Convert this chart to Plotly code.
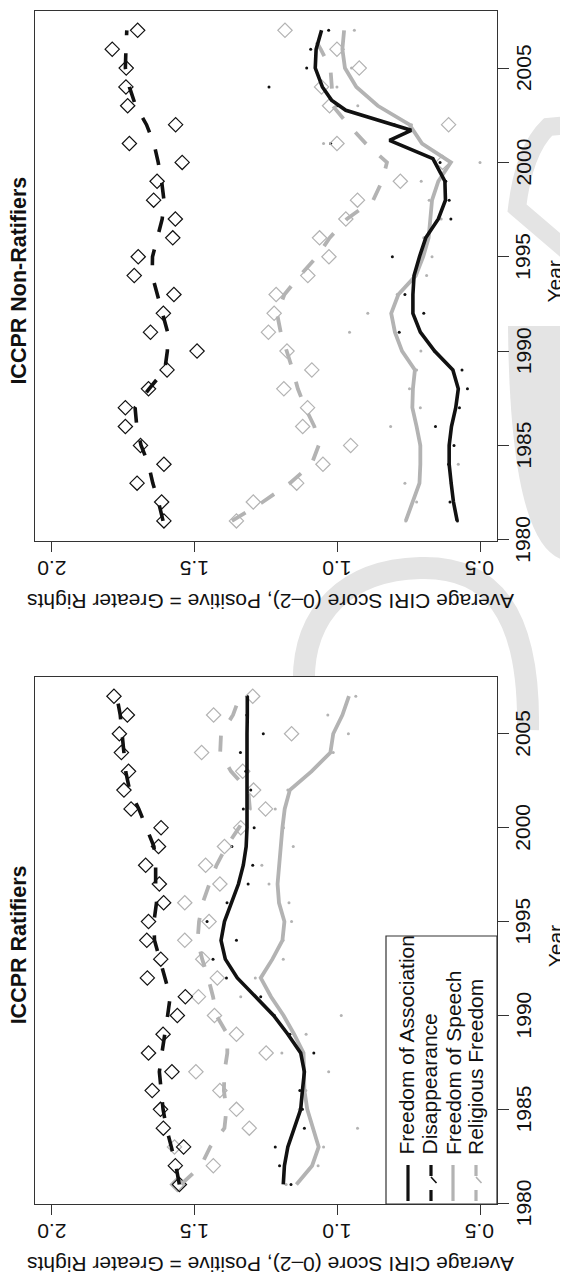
import plotly.graph_objects as go

# ---------------- data ----------------
years = list(range(1981, 2008))
year_ticks = [1980, 1985, 1990, 1995, 2000, 2005]
score_ticks = [0.5, 1.0, 1.5, 2.0]
score_ticklabels = ["0.5", "1.0", "1.5", "2.0"]

panel_titles = ["ICCPR Non-Ratifiers", "ICCPR Ratifiers"]
series_names = ["Freedom of Association", "Disappearance",
                "Freedom of Speech", "Religious Freedom"]
x_title = "Year"
y_title = "Average CIRI Score (0\u20132), Positive = Greater Rights"

# ICCPR Non-Ratifiers
nr_assoc_pts = [0.579, 0.605, 0.600, 0.610, 0.591, 0.656, 0.572, 0.544, 0.563,
                0.660, 0.783, 0.697, 0.763, 0.730, 0.807, 0.690, 0.602, 0.608,
                0.620, 0.640, 1.023, 0.800, 1.001, 1.239, 1.107, 1.093, 1.030]
nr_assoc_fit_years = list(range(1981, 2000)) + [2000.2, 2001.17, 2001.7, 2002.76,
                                                2003.3, 2004, 2005, 2006, 2007]
nr_assoc_fit = [0.580, 0.593, 0.601, 0.608, 0.608, 0.600, 0.585, 0.576, 0.595,
                0.659, 0.709, 0.735, 0.735, 0.731, 0.712, 0.690, 0.646, 0.621,
                0.623, 0.665, 0.817, 0.741, 0.970, 1.020, 1.052, 1.077, 1.074,
                1.055]
nr_disap_pts = [1.607, 1.615, 1.701, 1.607, 1.689, 1.742, 1.742, 1.661, 1.596,
                1.491, 1.654, 1.609, 1.572, 1.711, 1.697, 1.576, 1.567, 1.643,
                1.631, 1.543, 1.728, 1.566, 1.734, 1.740, 1.739, 1.788, 1.699]
nr_disap_fit = [1.610, 1.626, 1.646, 1.661, 1.687, 1.702, 1.708, 1.659, 1.604,
                1.595, 1.594, 1.613, 1.631, 1.648, 1.647, 1.629, 1.613, 1.607,
                1.615, 1.627, 1.642, 1.668, 1.706, 1.728, 1.742, 1.740, 1.737]
nr_speech_pts = [0.760, 0.722, 0.763, 0.576, 0.709, 0.813, 0.709, 0.747, 0.722,
                 0.707, 0.957, 0.893, 0.790, 0.687, 0.668, 0.697, 0.636, 0.678,
                 0.706, 0.500, 1.048, 0.740, 0.928, 1.001, 0.950, 0.980, 0.940]
nr_speech_fit = [0.760, 0.735, 0.712, 0.709, 0.709, 0.722, 0.737, 0.735, 0.728,
                 0.773, 0.798, 0.811, 0.786, 0.725, 0.699, 0.680, 0.675, 0.668,
                 0.646, 0.602, 0.703, 0.747, 0.858, 0.933, 0.973, 0.982, 0.976]
nr_relig_pts = [1.353, 1.294, 1.142, 1.050, 0.953, 1.121, 1.104, 1.187, 1.089,
                1.176, 1.241, 1.221, 1.214, 1.103, 1.029, 1.062, 0.970, 0.929,
                0.779, 0.631, 1.001, 0.610, 1.027, 1.055, 0.923, 1.001, 1.183]
nr_relig_fit = [1.369, 1.261, 1.166, 1.090, 1.065, 1.080, 1.112, 1.138, 1.156,
                1.176, 1.198, 1.211, 1.185, 1.131, 1.071, 1.027, 0.966, 0.874,
                0.843, 0.826, 0.900, 0.961, 1.016, 1.019, 1.024, 1.058, 1.096]

# ICCPR Ratifiers
r_assoc_pts = [1.162, 1.202, 1.217, 1.115, 1.122, 1.131, 1.115, 1.082, 1.166,
               1.220, 1.268, 1.388, 1.435, 1.353, 1.456, 1.386, 1.312, 1.296,
               1.369, 1.291, 1.329, 1.303, 1.320, 1.339, 1.259, 1.317, 1.315]
r_assoc_fit = [1.189, 1.185, 1.173, 1.151, 1.128, 1.122, 1.115, 1.128, 1.173,
               1.223, 1.287, 1.350, 1.392, 1.407, 1.395, 1.369, 1.346, 1.329,
               1.319, 1.316, 1.316, 1.317, 1.319, 1.317, 1.316, 1.315, 1.315]
r_disap_pts = [1.553, 1.567, 1.538, 1.609, 1.619, 1.648, 1.579, 1.661, 1.610,
               1.560, 1.532, 1.665, 1.618, 1.667, 1.661, 1.608, 1.623, 1.671,
               1.626, 1.617, 1.722, 1.747, 1.731, 1.756, 1.763, 1.735, 1.782]
r_disap_fit = [1.553, 1.565, 1.581, 1.598, 1.610, 1.618, 1.623, 1.614, 1.603,
               1.594, 1.585, 1.604, 1.623, 1.640, 1.642, 1.633, 1.636, 1.636,
               1.642, 1.668, 1.695, 1.727, 1.741, 1.747, 1.755, 1.760, 1.772]
r_speech_pts = [1.179, 1.067, 1.048, 0.929, 1.133, 1.110, 1.030, 1.194, 1.109,
                0.986, 1.338, 1.287, 1.189, 1.190, 1.160, 1.169, 1.239, 1.264,
                1.154, 1.188, 1.217, 1.173, 1.090, 1.014, 0.961, 1.033, 0.935]
r_speech_fit = [1.143, 1.088, 1.065, 1.084, 1.105, 1.115, 1.115, 1.118, 1.151,
                1.188, 1.232, 1.268, 1.227, 1.192, 1.185, 1.204, 1.209, 1.204,
                1.198, 1.192, 1.184, 1.166, 1.090, 1.024, 1.014, 0.982, 0.959]
r_relig_pts = [1.560, 1.434, 1.570, 1.308, 1.353, 1.411, 1.495, 1.249, 1.353,
               1.430, 1.486, 1.420, 1.471, 1.534, 1.449, 1.534, 1.411, 1.461,
               1.395, 1.338, 1.251, 1.293, 1.331, 1.475, 1.160, 1.433, 1.296]
r_relig_fit = [1.547, 1.477, 1.445, 1.395, 1.388, 1.397, 1.395, 1.385, 1.385,
               1.423, 1.435, 1.452, 1.473, 1.489, 1.484, 1.471, 1.448, 1.423,
               1.388, 1.344, 1.306, 1.312, 1.372, 1.410, 1.407, 1.365, 1.341]

# ---------------- styling / layout ----------------
# The page body has an 8px default margin, so the figure is made 8px smaller
# and every layout position below is given in window pixels, shifted by 8.
OFF = 8
WIN_W, WIN_H = 568, 1282
W, H = WIN_W - OFF, WIN_H - OFF
FONT = "Liberation Sans, Arial, Helvetica, sans-serif"
BLACK = "#111111"
GREY = "#b3b3b3"
FRAME = "#333333"
WMARK = "#e4e4e4"
DASH = "16px,18px"

FRAME_L, FRAME_R = 35, 497
PANELS = [(10.7, 540.5), (676.7, 1204.0)]   # window-pixel top / bottom of each frame
SCORE_RANGE = [2.0585, 0.4405]
YEAR_RANGE = [1979.96, 2008.04]


def X(px):
    return (px - OFF) / W


def Y(py):
    return 1 - (py - OFF) / H


fig = go.Figure()

panel_data = [
    dict(assoc_pts=nr_assoc_pts, assoc_fit=nr_assoc_fit, assoc_fit_years=nr_assoc_fit_years,
         disap_pts=nr_disap_pts, disap_fit=nr_disap_fit,
         speech_pts=nr_speech_pts, speech_fit=nr_speech_fit,
         relig_pts=nr_relig_pts, relig_fit=nr_relig_fit),
    dict(assoc_pts=r_assoc_pts, assoc_fit=r_assoc_fit, assoc_fit_years=years,
         disap_pts=r_disap_pts, disap_fit=r_disap_fit,
         speech_pts=r_speech_pts, speech_fit=r_speech_fit,
         relig_pts=r_relig_pts, relig_fit=r_relig_fit),
]

for p, d in enumerate(panel_data):
    xa = "x" if p == 0 else "x2"
    ya = "y" if p == 0 else "y2"
    common = dict(xaxis=xa, yaxis=ya, showlegend=False, hoverinfo="skip")
    # raw points
    fig.add_trace(go.Scatter(x=d["speech_pts"], y=years, mode="markers",
                             marker=dict(symbol="circle", size=3, color=GREY), **common))
    fig.add_trace(go.Scatter(x=d["assoc_pts"], y=years, mode="markers",
                             marker=dict(symbol="circle", size=3, color=BLACK), **common))
    fig.add_trace(go.Scatter(x=d["relig_pts"], y=years, mode="markers",
                             marker=dict(symbol="diamond-open", size=11, color=GREY,
                                         line=dict(width=1.2, color=GREY)), **common))
    fig.add_trace(go.Scatter(x=d["disap_pts"], y=years, mode="markers",
                             marker=dict(symbol="diamond-open", size=11, color=BLACK,
                                         line=dict(width=1.2, color=BLACK)), **common))
    # smooth fits
    fig.add_trace(go.Scatter(x=d["speech_fit"], y=years, mode="lines",
                             line=dict(color=GREY, width=3.8), **common))
    fig.add_trace(go.Scatter(x=d["relig_fit"], y=years, mode="lines",
                             line=dict(color=GREY, width=3.8, dash=DASH), **common))
    fig.add_trace(go.Scatter(x=d["assoc_fit"], y=d["assoc_fit_years"], mode="lines",
                             line=dict(color=BLACK, width=3.6), **common))
    fig.add_trace(go.Scatter(x=d["disap_fit"], y=years, mode="lines",
                             line=dict(color=BLACK, width=3.6, dash=DASH), **common))

axis_common = dict(showgrid=False, zeroline=False, showline=True, linecolor=FRAME,
                   linewidth=1.2, mirror=True, ticks="outside", tickcolor=FRAME,
                   tickwidth=1.1, fixedrange=True, showticklabels=False)

layout_axes = {}
for p, (top, bot) in enumerate(PANELS):
    sx = "" if p == 0 else "2"
    layout_axes["xaxis" + sx] = dict(axis_common, domain=[X(FRAME_L), X(FRAME_R)],
                                     range=SCORE_RANGE, tickvals=score_ticks,
                                     ticklen=10, anchor="y" + sx)
    layout_axes["yaxis" + sx] = dict(axis_common, domain=[Y(bot), Y(top)],
                                     range=YEAR_RANGE, tickvals=year_ticks,
                                     side="right", ticklen=11, anchor="x" + sx)

annotations = []
shapes = []


def path(points_cmds):
    out = []
    for cmd, pts in points_cmds:
        coords = " ".join(f"{X(a):.5f},{Y(b):.5f}" for a, b in pts)
        out.append(f"{cmd} {coords}")
    return " ".join(out)


# faint watermark behind the plot frames
shapes.append(dict(type="path", xref="paper", yref="paper", layer="below",
                   path=path([("M", [(580, 124)]), ("L", [(548, 127)]),
                              ("Q", [(524, 150), (517, 208)]), ("L", [(580, 262)])]),
                   line=dict(color=WMARK, width=18), fillcolor="rgba(0,0,0,0)"))
shapes.append(dict(type="path", xref="paper", yref="paper", layer="below",
                   path=path([("M", [(570, 326)]), ("L", [(508, 326), (507, 535)]),
                              ("Q", [(510, 558), (570, 561)]), ("L", [(570, 522), (523, 520),
                              (522, 357), (570, 357)]), ("Z", [])]),
                   line=dict(color=WMARK, width=0), fillcolor=WMARK))
shapes.append(dict(type="path", xref="paper", yref="paper", layer="below",
                   path=path([("M", [(304, 690)]), ("C", [(300, 610), (350, 570), (420, 568)]),
                              ("C", [(490, 566), (530, 610), (528, 730)])]),
                   line=dict(color=WMARK, width=22), fillcolor="rgba(0,0,0,0)"))
for top, bot in PANELS:
    shapes.append(dict(type="rect", xref="paper", yref="paper", layer="below",
                       x0=X(FRAME_L), x1=X(FRAME_R), y0=Y(bot), y1=Y(top),
                       line=dict(width=0), fillcolor="white"))

txt = dict(showarrow=False, xanchor="center", yanchor="middle")
for p, (top, bot) in enumerate(PANELS):
    sx = "" if p == 0 else "2"
    mid = (top + bot) / 2
    annotations.append(dict(txt, text=f"<b>{panel_titles[p]}</b>", xref="paper", yref="paper",
                            x=X(19), y=Y(mid + 5), textangle=-90,
                            font=dict(family=FONT, size=21.5, color=BLACK)))
    annotations.append(dict(txt, text=x_title, xref="paper", yref="paper",
                            x=X(555), y=Y(mid + 6), textangle=-90,
                            font=dict(family=FONT, size=21, color=BLACK)))
    annotations.append(dict(txt, text=y_title, xref="paper", yref="paper",
                            x=X(271), y=Y(bot + 61), textangle=180,
                            font=dict(family=FONT, size=21, color=BLACK)))
    for v, lab in zip(score_ticks, score_ticklabels):
        annotations.append(dict(txt, text=lab, xref="x" + sx, yref="paper", x=v,
                                y=Y(bot + 28), textangle=180,
                                font=dict(family=FONT, size=21, color=BLACK)))
    for v in year_ticks:
        annotations.append(dict(txt, text=str(v), xref="paper", yref="y" + sx,
                                x=X(523), y=v, textangle=-90,
                                font=dict(family=FONT, size=21, color=BLACK)))

# legend (bottom panel), drawn rotated like the rest of the figure
LEG = dict(x0=386, x1=497, y0=936, y1=1204)
shapes.append(dict(type="rect", xref="paper", yref="paper", layer="above",
                   x0=X(LEG["x0"]), x1=X(LEG["x1"]), y0=Y(LEG["y1"]), y1=Y(LEG["y0"]),
                   line=dict(color=FRAME, width=1.2), fillcolor="white"))
leg_sym_x = [408, 431, 453, 476]
leg_txt_x = [406, 429, 453, 475]
leg_colors = [BLACK, BLACK, GREY, GREY]
leg_has_marker = [False, True, False, True]
for i, name in enumerate(series_names):
    cx = leg_sym_x[i]
    col = leg_colors[i]
    if leg_has_marker[i]:
        for (a, b) in [(1165, 1176), (1190, 1201)]:
            shapes.append(dict(type="line", xref="paper", yref="paper", layer="above",
                               x0=X(cx), x1=X(cx), y0=Y(a), y1=Y(b),
                               line=dict(color=col, width=3.2)))
        shapes.append(dict(type="path", xref="paper", yref="paper", layer="above",
                           path=path([("M", [(cx, 1177)]), ("L", [(cx + 5.5, 1183), (cx, 1189),
                                      (cx - 5.5, 1183)]), ("Z", [])]),
                           line=dict(color=col, width=1.6), fillcolor="rgba(0,0,0,0)"))
    else:
        shapes.append(dict(type="line", xref="paper", yref="paper", layer="above",
                           x0=X(cx), x1=X(cx), y0=Y(1165), y1=Y(1201),
                           line=dict(color=col, width=3.2)))
    annotations.append(dict(text=name, xref="paper", yref="paper", x=X(leg_txt_x[i]),
                            y=Y(1157), xanchor="center", yanchor="bottom",
                            textangle=-90, showarrow=False,
                            font=dict(family=FONT, size=21, color=BLACK)))

fig.update_layout(
    width=W, height=H, autosize=False,
    margin=dict(l=0, r=0, t=0, b=0, pad=0),
    paper_bgcolor="white", plot_bgcolor="white",
    showlegend=False,
    annotations=annotations, shapes=shapes,
    **layout_axes,
)

fig.write_html("out.html")
